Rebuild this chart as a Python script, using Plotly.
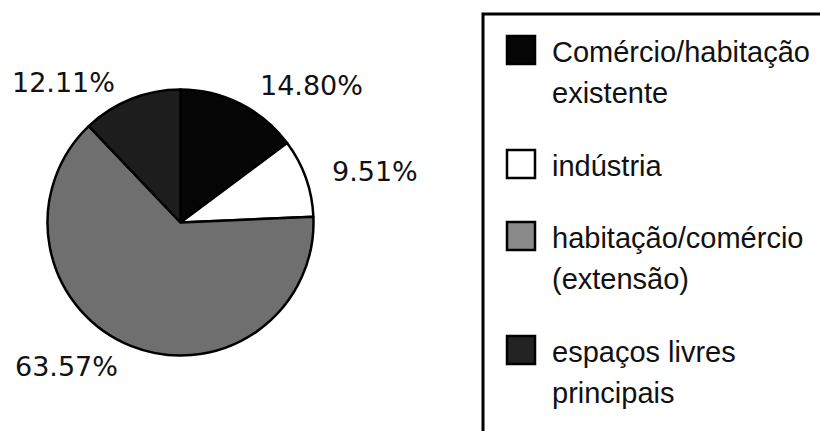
import plotly.graph_objects as go

# ---- data ----
categories = ["Comércio/habitação\nexistente", "indústria",
              "habitação/comércio\n(extensão)", "espaços livres\nprincipais"]
values = [14.80, 9.51, 63.57, 12.11]
slice_colors = ["#050505", "#ffffff", "#6f6f6f", "#1d1d1d"]
legend_colors = ["#050505", "#ffffff", "#8a8a8a", "#222222"]

W, H = 820, 431

def px(x):
    return x / W

def py(y):
    return 1 - y / H

fig = go.Figure()

cx, cy, r = 180.5, 222.5, 133
fig.add_trace(go.Pie(
    labels=[c.replace("\n", " ") for c in categories],
    values=values,
    sort=False,
    direction="clockwise",
    rotation=0,
    marker=dict(colors=slice_colors, line=dict(color="#000000", width=2.5)),
    textinfo="none",
    hoverinfo="label+percent",
    showlegend=False,
    domain=dict(x=[px(cx - r), px(cx + r)], y=[py(cy + r), py(cy - r)]),
))

# percentage labels (text from values)
label_pos = [(311, 86, "center"), (330, 171, "left"), (66, 366, "center"), (63, 83, "center")]
annotations = []
for v, (x, y, anc) in zip(values, label_pos):
    annotations.append(dict(
        x=px(x), y=py(y), xref="paper", yref="paper",
        text=f"{v:.2f}%", showarrow=False, xanchor=anc, yanchor="middle",
        font=dict(family="DejaVu Sans", size=27, color="#111111")))

# legend drawn manually
shapes = [dict(type="rect", xref="paper", yref="paper",
               x0=px(483), x1=px(840), y0=py(14), y1=py(450),
               line=dict(color="#000000", width=3), fillcolor="rgba(0,0,0,0)")]
item_y = [52, 166, 238, 352]
line_gap = 41
for cat, col, y0 in zip(categories, legend_colors, item_y):
    sc = y0 - 2
    shapes.append(dict(type="rect", xref="paper", yref="paper",
                       x0=px(507), x1=px(535), y0=py(sc + 14), y1=py(sc - 14),
                       line=dict(color="#000000", width=2.5), fillcolor=col))
    for i, line in enumerate(cat.split("\n")):
        annotations.append(dict(
            x=px(550), y=py(y0 + i * line_gap), xref="paper", yref="paper",
            text=line, showarrow=False, xanchor="left", yanchor="middle",
            font=dict(family="Liberation Sans", size=29, color="#111111")))

fig.update_layout(
    width=W, height=H,
    margin=dict(l=0, r=0, t=0, b=0),
    paper_bgcolor="#ffffff", plot_bgcolor="#ffffff",
    shapes=shapes, annotations=annotations,
    showlegend=False,
)

fig.write_html("out.html")
